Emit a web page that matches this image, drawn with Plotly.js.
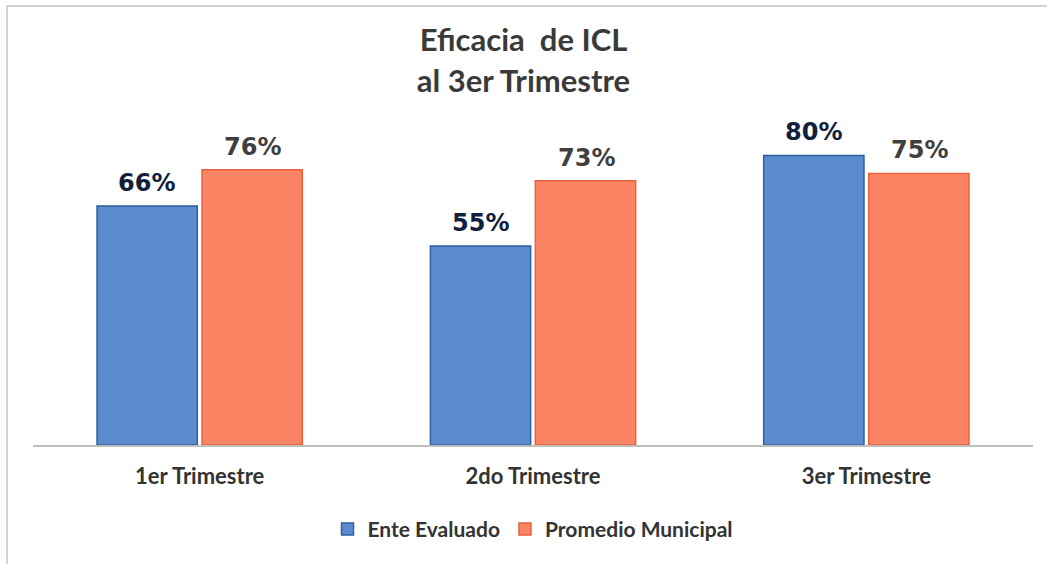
<!DOCTYPE html>
<html>
<head>
<meta charset="utf-8">
<script src="https://cdn.plot.ly/plotly-3.0.1.min.js"></script>
<style>
html,body{margin:0;padding:0;background:#fff;}
#wrap{position:relative;width:1047px;height:564px;overflow:hidden;}
#chart{width:1047px;height:564px;}
#frame{position:absolute;left:6px;top:5px;width:1100px;height:600px;border-left:2px solid #d4d4d4;border-top:2px solid #d4d4d4;pointer-events:none;}
</style>
</head>
<body>
<div id="wrap"><div id="chart"></div><div id="frame"></div></div>
<script>
const categories = ["1er Trimestre", "2do Trimestre", "3er Trimestre"];
const enteEvaluado = [0.66, 0.55, 0.80];
const promedioMunicipal = [0.76, 0.73, 0.75];
const seriesNames = ["Ente Evaluado", "Promedio Municipal"];
const titleText = "Eficacia  de ICL<br>al 3er Trimestre";

const blue = "#5b8ccf", blueLine = "#2f5f9c";
const orange = "#fb8465", orangeLine = "#e8603e";

const traces = [
  {type: "bar", name: seriesNames[0], x: categories, y: enteEvaluado,
   marker: {color: blue, line: {color: blueLine, width: 1.5}}, hoverinfo: "none"},
  {type: "bar", name: seriesNames[1], x: categories, y: promedioMunicipal,
   marker: {color: orange, line: {color: orangeLine, width: 1.5}}, hoverinfo: "none"}
];

const annotations = [];
categories.forEach((c, i) => {
  annotations.push({x: c, y: enteEvaluado[i], xref: "x", yref: "y", xshift: -53, yshift: 7,
    yanchor: "bottom", showarrow: false, text: Math.round(enteEvaluado[i] * 100) + "%",
    font: {family: "DejaVu Sans", size: 24, color: "#10213d", weight: "bold"}});
  annotations.push({x: c, y: promedioMunicipal[i], xref: "x", yref: "y", xshift: 53, yshift: 7,
    yanchor: "bottom", showarrow: false, text: Math.round(promedioMunicipal[i] * 100) + "%",
    font: {family: "DejaVu Sans", size: 24, color: "#3f3f3f", weight: "bold"}});
});

const layout = {
  width: 1047, height: 564,
  paper_bgcolor: "#ffffff", plot_bgcolor: "#ffffff",
  margin: {l: 33, r: 14, t: 100, b: 119},
  title: {text: titleText, x: 0.5, xanchor: "center", yref: "container", y: 0.909, yanchor: "top",
    font: {family: "Lato", size: 31, color: "#3a3a3a", weight: "bold"}},
  barmode: "group", bargap: 0.37, bargroupgap: 0.045,
  xaxis: {showline: true, linecolor: "#bfbfbf", linewidth: 1.5, ticks: "",
    tickfont: {family: "Lato", size: 22, color: "#333333", weight: "bold"},
    ticklabelstandoff: 11, showgrid: false, zeroline: false, automargin: false},
  yaxis: {range: [0, 0.953], visible: false, showgrid: false, zeroline: false},
  showlegend: true,
  legend: {orientation: "h", x: 0.5, xanchor: "center", y: -0.185, yanchor: "top",
    font: {family: "Lato", size: 21, color: "#333333", weight: "bold"}, itemwidth: 30},
  annotations: annotations
};

Plotly.newPlot("chart", traces, layout, {displayModeBar: false, staticPlot: true});
</script>
</body>
</html>
